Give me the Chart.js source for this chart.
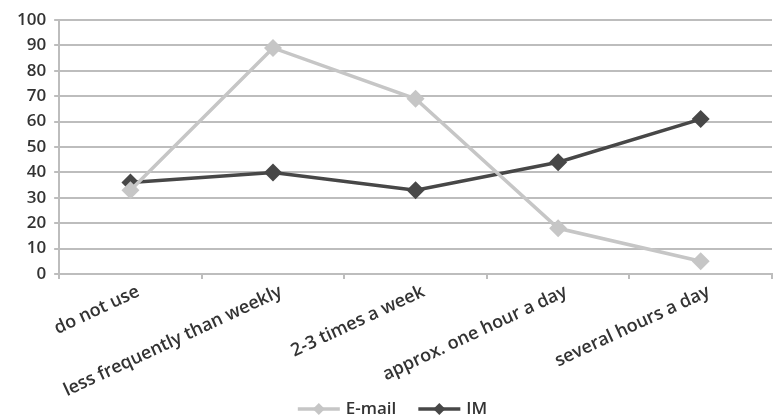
<!DOCTYPE html>
<html>
<head>
<meta charset="utf-8">
<script src="https://cdn.jsdelivr.net/npm/chart.js@4/dist/chart.umd.min.js"></script>
<style>
  html, body { margin: 0; padding: 0; background: #fff; }
  #wrap { width: 773px; height: 420px; }
</style>
</head>
<body>
<div id="wrap"><canvas id="c" width="773" height="420"></canvas></div>
<script>
// Usage frequency categories
const categories = [
  "do not use",
  "less frequently than weekly",
  "2-3 times a week",
  "approx. one hour a day",
  "several hours a day"
];
// Share of respondents (%) per category
const emailValues = [33, 89, 69, 18, 5];
const imValues = [36, 40, 33, 44, 61];
const yTicks = [0, 10, 20, 30, 40, 50, 60, 70, 80, 90, 100];

const EMAIL_COLOR = "#c6c6c6";
const IM_COLOR = "#474747";
const GRID_COLOR = "#bdbdbd";
const TEXT_COLOR = "#333";
const FONT = "'Open Sans', 'DejaVu Sans', sans-serif";

// Legend along the bottom: line-with-diamond symbol followed by the series name
const bottomLegend = {
  id: "bottomLegend",
  afterDraw(chart) {
    const ctx = chart.ctx;
    const sets = chart.data.datasets;
    const symW = 42, symGap = 6, itemGap = 22, cy = 409;
    ctx.save();
    ctx.font = "600 17px " + FONT;
    const widths = sets.map(ds => ctx.measureText(ds.label).width);
    let total = 0;
    widths.forEach((w, i) => { total += symW + symGap + w + (i ? itemGap : 0); });
    let x = chart.width / 2 + 6 - total / 2;
    sets.forEach((ds, i) => {
      const c = ds.borderColor;
      ctx.strokeStyle = c;
      ctx.lineWidth = 3.5;
      ctx.beginPath(); ctx.moveTo(x, cy); ctx.lineTo(x + symW, cy); ctx.stroke();
      const mx = x + symW / 2;
      ctx.fillStyle = c;
      ctx.beginPath();
      ctx.moveTo(mx, cy - 6); ctx.lineTo(mx + 6, cy); ctx.lineTo(mx, cy + 6); ctx.lineTo(mx - 6, cy);
      ctx.closePath(); ctx.fill();
      x += symW + symGap;
      ctx.fillStyle = TEXT_COLOR;
      ctx.textBaseline = "middle";
      ctx.textAlign = "left";
      ctx.fillText(ds.label, x, cy);
      x += widths[i] + itemGap;
    });
    ctx.restore();
  }
};

new Chart(document.getElementById("c"), {
  type: "line",
  data: {
    labels: categories,
    datasets: [
      {
        label: "E-mail",
        data: emailValues,
        borderColor: EMAIL_COLOR,
        backgroundColor: EMAIL_COLOR,
        borderWidth: 3.5,
        pointStyle: "rectRot",
        pointRadius: 9,
        pointBorderWidth: 0,
        tension: 0
      },
      {
        label: "IM",
        data: imValues,
        borderColor: IM_COLOR,
        backgroundColor: IM_COLOR,
        borderWidth: 3.5,
        pointStyle: "rectRot",
        pointRadius: 9,
        pointBorderWidth: 0,
        tension: 0
      }
    ]
  },
  plugins: [bottomLegend],
  options: {
    responsive: false,
    animation: false,
    devicePixelRatio: 1,
    layout: { autoPadding: false, padding: { top: 20, left: 9, right: 1, bottom: 0 } },
    plugins: {
      tooltip: { enabled: false },
      legend: { display: false }
    },
    scales: {
      x: {
        offset: true,
        afterFit(axis) {
          axis.height = 146;
          axis.paddingRight = 0;
        },
        grid: {
          offset: true,
          drawOnChartArea: false,
          drawTicks: true,
          tickLength: 5,
          color: GRID_COLOR,
          lineWidth: 2
        },
        border: { display: true, color: GRID_COLOR, width: 2 },
        ticks: {
          minRotation: 25,
          maxRotation: 25,
          autoSkip: false,
          padding: 2,
          labelOffset: 8,
          color: TEXT_COLOR,
          font: { family: FONT, size: 18, weight: "600" }
        }
      },
      y: {
        min: 0,
        max: 100,
        afterBuildTicks(axis) { axis.ticks = yTicks.map(v => ({ value: v })); },
        grid: {
          color: GRID_COLOR,
          lineWidth: 2,
          tickLength: 5
        },
        border: { display: true, color: GRID_COLOR, width: 2 },
        ticks: {
          padding: 8,
          color: TEXT_COLOR,
          font: { family: FONT, size: 17, weight: "600" }
        }
      }
    }
  }
});
</script>
</body>
</html>
